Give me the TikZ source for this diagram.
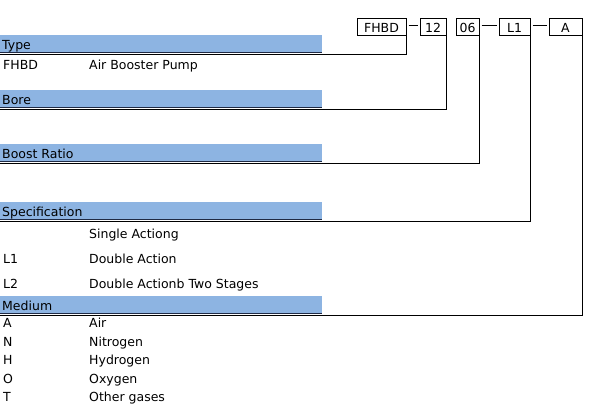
\documentclass[tikz,border=0pt]{standalone}
\usepackage{fontspec}
\setmainfont{DejaVu Sans}
\definecolor{bandblue}{HTML}{8DB4E2}
\definecolor{bandline}{HTML}{1F2A44}
\begin{document}
\begin{tikzpicture}[x=1pt,y=-1pt,
  every node/.style={font=\fontsize{12.5}{14}\selectfont, inner sep=0pt},
  codebox/.style={draw, line width=1pt, minimum height=17pt, anchor=center},
  txt/.style={anchor=base west},
  link/.style={line width=1pt},
  dashlink/.style={line width=1pt, shorten <=2pt, shorten >=2pt}]
\useasboundingbox (0,0) rectangle (592,406);
\fill[white] (0,0) rectangle (592,406);

% code boxes
\node[codebox, minimum width=49pt] (fhbd) at (381.5,27.5) {FHBD};
\node[codebox, minimum width=26pt] (bore) at (433,27.5) {12};
\node[codebox, minimum width=23pt] (ratio) at (467.5,27.5) {06};
\node[codebox, minimum width=31pt] (spec) at (514.5,27.5) {L1};
\node[codebox, minimum width=33pt] (med) at (565.5,27.5) {A};

\draw[dashlink] ([yshift=1.5pt]fhbd.east) -- ([yshift=1.5pt]bore.west);
\draw[dashlink] ([yshift=1.5pt]ratio.east) -- ([yshift=1.5pt]spec.west);
\draw[dashlink] ([yshift=1.5pt]spec.east) -- ([yshift=1.5pt]med.west);

% bands
\foreach \t/\b in {35/52, 90/107, 144/161, 202/219, 296/313}{
  \fill[bandblue] (0,\t) rectangle (322,\b);
  \draw[bandline, line width=0.8pt] (0,\b) -- (322,\b);
}
\node[txt] (ltype) at (2,49.5) {Type};
\node[txt] (lbore) at (2,104.5) {Bore};
\node[txt] (lratio) at (2,158.5) {Boost Ratio};
\node[txt] (lspec) at (2,216.5) {Specification};
\node[txt] (lmed) at (2,310.5) {Medium};

% connector lines
\coordinate (ctype) at (0,54.2);
\coordinate (cbore) at (0,109.2);
\coordinate (cratio) at (0,163.2);
\coordinate (cspec) at (0,221.2);
\coordinate (cmed) at (0,315.2);
\draw[link] (ctype) -| (fhbd.south east);
\draw[link] (cbore) -| (bore.south east);
\draw[link] (cratio) -| (ratio.south east);
\draw[link] (cspec) -| (spec.south east);
\draw[link] (cmed) -| (med.south east);

% items
\node[txt] (t1a) at (3,70) {FHBD};
\node[txt] (t1b) at (89,70) {Air Booster Pump};

\node[txt] (s0b) at (89,239) {Single Actiong};
\node[txt] (s1a) at (3,264) {L1};
\node[txt] (s1b) at (89,264) {Double Action};
\node[txt] (s2a) at (3,288.5) {L2};
\node[txt] (s2b) at (89,288.5) {Double Actionb Two Stages};

\node[txt] (m1a) at (3,327.5) {A};
\node[txt] (m1b) at (89,327.5) {Air};
\node[txt] (m2a) at (3,346) {N};
\node[txt] (m2b) at (89,346) {Nitrogen};
\node[txt] (m3a) at (3,364.5) {H};
\node[txt] (m3b) at (89,364.5) {Hydrogen};
\node[txt] (m4a) at (3,383) {O};
\node[txt] (m4b) at (89,383) {Oxygen};
\node[txt] (m5a) at (3,401.5) {T};
\node[txt] (m5b) at (89,401.5) {Other gases};
\end{tikzpicture}
\end{document}
